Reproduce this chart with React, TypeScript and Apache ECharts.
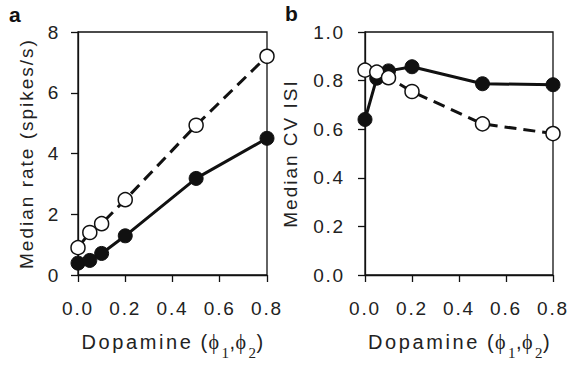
import React, { useEffect, useRef } from "react";
import * as echarts from "echarts";

const xValues = [0, 0.05, 0.1, 0.2, 0.5, 0.8];
const rateFilled = [0.39, 0.48, 0.71, 1.29, 3.18, 4.5];
const rateOpen = [0.9, 1.4, 1.69, 2.48, 4.93, 7.2];
const cvFilled = [0.64, 0.81, 0.84, 0.857, 0.787, 0.783];
const cvOpen = [0.843, 0.835, 0.812, 0.755, 0.622, 0.582];

const FONT = "'Liberation Sans', Arial, sans-serif";
const SERIF = "'Liberation Serif', 'DejaVu Serif', serif";
const TXT = "#222";

function spaceTexts(root: HTMLElement | null) {
  if (!root) return;
  root.querySelectorAll("text").forEach((node) => {
    const t = node as unknown as SVGTextElement;
    let rotated = false;
    try {
      const c = t.transform.baseVal.consolidate();
      if (c && Math.abs(c.matrix.b) > 0.01) rotated = true;
    } catch (e) {}
    const s = t.textContent || "";
    if (rotated) t.style.letterSpacing = "2px";
    else if (/^[0-9.]+$/.test(s)) t.style.letterSpacing = "1.8px";
    else if (s.length > 1) t.style.letterSpacing = "2.6px";
  });
}

export default function App() {
  const ref = useRef<HTMLDivElement>(null);
  useEffect(() => {
    if (!ref.current) return;
    const chart = echarts.init(ref.current, undefined, { renderer: "svg" });
    const pair = (ys: number[]) => xValues.map((x, i) => [x, ys[i]]);
    const axisCommon = {
      axisLine: { show: true, onZero: false, lineStyle: { color: "#111", width: 1.3 } },
      axisTick: { show: true, inside: false, length: 7, lineStyle: { color: "#111", width: 1.3 } },
      splitLine: { show: false },
      axisLabel: { color: TXT, fontSize: 19, fontFamily: FONT },
    };
    const xName = {
      name: "{t|Dopamine}{p|(}{f|ϕ}{b|1}{c|,}{f|ϕ}{b|2}{q|)}",
      nameLocation: "middle",
      nameGap: 48,
      nameTextStyle: {
        color: TXT,
        fontSize: 20,
        fontFamily: FONT,
        rich: {
          t: { fontSize: 20, fontFamily: FONT, color: TXT, width: 119, align: "left" },
          p: { fontSize: 20, fontFamily: FONT, color: TXT, width: 8, align: "left" },
          c: { fontSize: 20, fontFamily: FONT, color: TXT, width: 6, align: "left" },
          q: { fontSize: 20, fontFamily: FONT, color: TXT, width: 7, align: "left" },
          f: { fontSize: 20, fontFamily: SERIF, color: TXT, width: 13, align: "left" },
          b: { fontSize: 15, fontFamily: SERIF, color: TXT, width: 8, align: "left", verticalAlign: "bottom", padding: [22, 0, 0, 0] },
        },
      },
    };
    const xAxisFor = (gi: number) => ({
      type: "value",
      gridIndex: gi,
      min: 0,
      max: 0.8,
      interval: 0.2,
      ...axisCommon,
      axisLabel: { ...axisCommon.axisLabel, margin: 24, formatter: (v: number) => v.toFixed(1) },
      ...xName,
    });
    const filled = (ys: number[], xi: number) => ({
      type: "line",
      xAxisIndex: xi,
      yAxisIndex: xi,
      data: pair(ys),
      symbol: "circle",
      symbolSize: 14,
      lineStyle: { color: "#111", width: 3 },
      itemStyle: { color: "#111", borderColor: "#111", borderWidth: 1 },
      z: 3,
    });
    const open = (ys: number[], xi: number) => ({
      type: "line",
      xAxisIndex: xi,
      yAxisIndex: xi,
      data: pair(ys),
      symbol: "circle",
      symbolSize: 14,
      lineStyle: { color: "#111", width: 3, type: [12, 7] },
      itemStyle: { color: "#fff", borderColor: "#111", borderWidth: 1.5 },
      z: 4,
    });
    chart.setOption({
      animation: false,
      backgroundColor: "#fff",
      grid: [
        { left: 78, top: 32, width: 189, height: 248, show: true, borderColor: "#111", borderWidth: 1.3, backgroundColor: "transparent" },
        { left: 365, top: 32, width: 188, height: 249, show: true, borderColor: "#111", borderWidth: 1.3, backgroundColor: "transparent" },
      ],
      xAxis: [xAxisFor(0), xAxisFor(1)],
      yAxis: [
        {
          type: "value",
          gridIndex: 0,
          min: 0,
          max: 8,
          interval: 2,
          ...axisCommon,
          axisLabel: { ...axisCommon.axisLabel, margin: 18 },
          name: "Median rate (spikes/s)",
          nameLocation: "middle",
          nameGap: 42,
          nameTextStyle: { color: TXT, fontSize: 19, fontFamily: FONT },
        },
        {
          type: "value",
          gridIndex: 1,
          min: 0,
          max: 1,
          interval: 0.2,
          ...axisCommon,
          axisLabel: { ...axisCommon.axisLabel, margin: 20, formatter: (v: number) => v.toFixed(1) },
          name: "Median CV ISI",
          nameLocation: "middle",
          nameGap: 65,
          nameTextStyle: { color: TXT, fontSize: 19, fontFamily: FONT },
        },
      ],
      graphic: [
        { type: "text", left: 9, top: 4, style: { text: "a", font: `bold 21px ${FONT}`, fill: "#111" } },
        { type: "text", left: 285, top: 3, style: { text: "b", font: `bold 21px ${FONT}`, fill: "#111" } },
      ],
      series: [filled(rateFilled, 0), open(rateOpen, 0), filled(cvFilled, 1), open(cvOpen, 1)],
    });
    const el = ref.current;
    spaceTexts(el);
    chart.on("finished", () => spaceTexts(el));
    const timer = setTimeout(() => spaceTexts(el), 50);
    return () => {
      clearTimeout(timer);
      chart.dispose();
    };
  }, []);
  return <div ref={ref} style={{ width: 570, height: 365, position: "absolute", left: 0, top: 0 }} />;
}
